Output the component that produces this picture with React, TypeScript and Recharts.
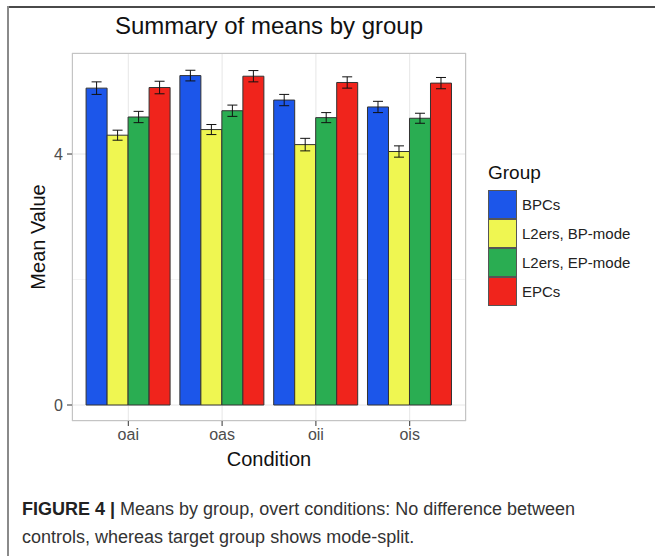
import React from 'react';
import { BarChart, Bar, XAxis, YAxis, CartesianGrid, ErrorBar } from 'recharts';

const conditions = ['oai', 'oas', 'oii', 'ois'];
const groups = ['BPCs', 'L2ers, BP-mode', 'L2ers, EP-mode', 'EPCs'];
const groupKeys = ['bpcs', 'l2bp', 'l2ep', 'epcs'];
const groupColors = ['#1c56ea', '#eff651', '#2aad52', '#f0241c'];

const bpcs = [5.05, 5.25, 4.86, 4.75];
const l2ersBp = [4.30, 4.39, 4.15, 4.04];
const l2ersEp = [4.59, 4.69, 4.58, 4.57];
const epcs = [5.06, 5.24, 5.14, 5.13];

const bpcsErr = [0.1, 0.085, 0.09, 0.09];
const l2ersBpErr = [0.08, 0.08, 0.1, 0.09];
const l2ersEpErr = [0.09, 0.09, 0.08, 0.08];
const epcsErr = [0.1, 0.09, 0.09, 0.09];

const yTicks = [0, 4];
const yMinor = [2];

const FONT = '"Liberation Sans", Arial, Helvetica, sans-serif';

const data = conditions.map((c, i) => ({
    condition: c,
    bpcs: bpcs[i], bpcsErr: bpcsErr[i],
    l2bp: l2ersBp[i], l2bpErr: l2ersBpErr[i],
    l2ep: l2ersEp[i], l2epErr: l2ersEpErr[i],
    epcs: epcs[i], epcsErr: epcsErr[i],
}));

const Legend: React.FC = () => (
    <div style={{ position: 'absolute', left: 488, top: 162, fontFamily: FONT }}>
        <div style={{ fontSize: 19, color: '#111', height: 28 }}>Group</div>
        {groups.map((g, i) => (
            <div key={g} style={{ display: 'flex', alignItems: 'center', height: 29 }}>
                <div style={{ width: 29, height: 29, boxSizing: 'border-box', background: groupColors[i], border: '1px solid #555' }} />
                <span style={{ fontSize: 15, color: '#222', marginLeft: 5 }}>{g}</span>
            </div>
        ))}
    </div>
);

export default function App() {
    return (
        <div style={{ position: 'fixed', left: 0, top: 0, width: 655, height: 556, background: '#fff', overflow: 'hidden' }}>
            {/* figure frame */}
            <div style={{ position: 'absolute', left: 7, top: 6, width: 648, height: 2, background: '#4a4a4a' }} />
            <div style={{ position: 'absolute', left: 7, top: 6, width: 2, height: 550, background: '#8a8a8a' }} />

            <div style={{ position: 'absolute', left: 72, top: 12, width: 394, textAlign: 'center', fontFamily: FONT, fontSize: 24, color: '#111' }}>
                Summary of means by group
            </div>

            <div style={{ position: 'absolute', left: 0, top: 0 }}>
                <BarChart width={655} height={480} data={data} margin={{ top: 53, right: 189, bottom: 0, left: 0 }}
                    barCategoryGap="5%" barGap={0}>
                    <CartesianGrid stroke="#f3f3f3" strokeWidth={1} vertical={false} horizontalValues={yMinor} />
                    <CartesianGrid stroke="#e6e6e6" strokeWidth={1} />
                    <XAxis dataKey="condition" height={59} padding={{ left: 9.4, right: 9.4 }}
                        tickSize={5} tickMargin={3} axisLine={false} tickLine={{ stroke: '#333' }}
                        tick={{ fontSize: 16, fill: '#4d4d4d', fontFamily: FONT }}
                        label={{ value: 'Condition', position: 'insideBottom', offset: 14, fontSize: 20, fill: '#111', fontFamily: FONT }} />
                    <YAxis type="number" domain={[-0.255, 5.61]} allowDataOverflow ticks={yTicks} width={72}
                        tickSize={5} tickMargin={4} axisLine={false} tickLine={{ stroke: '#333' }}
                        tick={{ fontSize: 16, fill: '#4d4d4d', fontFamily: FONT }}
                        label={{
                            content: () => (
                                <text x={38} y={237} transform="rotate(-90 38 237)" textAnchor="middle" dominantBaseline="central"
                                    fontSize={20} fill="#111" fontFamily={FONT}>Mean Value</text>
                            ),
                        }} />
                    {groupKeys.map((k, i) => (
                        <Bar key={k} dataKey={k} name={groups[i]} fill={groupColors[i]} stroke="#333" strokeWidth={1} isAnimationActive={false}>
                            <ErrorBar dataKey={`${k}Err`} width={5} stroke="#111" strokeWidth={1} direction="y" />
                        </Bar>
                    ))}
                </BarChart>
            </div>

            {/* panel border */}
            <div style={{ position: 'absolute', left: 72, top: 53, width: 394, height: 368, boxSizing: 'border-box', border: '1px solid #c4c4c4', pointerEvents: 'none' }} />

            <Legend />

            <div style={{ position: 'absolute', left: 22, top: 495, fontFamily: FONT, fontSize: 18, lineHeight: '28px', color: '#333' }}>
                <span style={{ fontWeight: 'bold', color: '#222' }}>FIGURE 4 | </span>Means by group, overt conditions: No difference between<br />
                controls, whereas target group shows mode-split.
            </div>
        </div>
    );
}
